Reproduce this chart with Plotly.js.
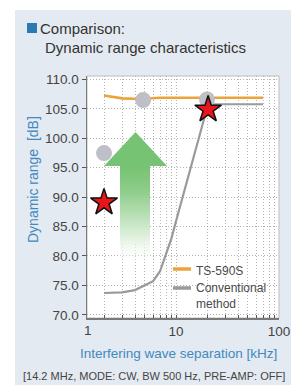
<!DOCTYPE html>
<html>
<head>
<meta charset="utf-8">
<script src="https://cdn.plot.ly/plotly-3.0.1.min.js"></script>
<style>
html,body{margin:0;padding:0;background:#ffffff;width:291px;height:385px;overflow:hidden}
#chart{position:absolute;left:15px;top:10px;width:276px;height:375px}
</style>
</head>
<body>
<div id="chart"></div>
<script>
// ---- data ----
const tsSep   = [2, 3, 4.5, 7, 10, 20, 40, 70];
const tsRange = [107.3, 106.8, 106.7, 106.9, 106.9, 106.9, 106.9, 106.9];

const convSep   = [2, 3, 4, 5.2, 6, 7, 7.8, 9, 10, 13.7, 20.5, 30, 50, 70];
const convRange = [73.7, 73.8, 74.2, 75.1, 75.7, 77.4, 79.8, 82.9, 85.9, 94.7, 105.8, 105.8, 105.8, 105.8];

const circleSep   = [2, 4.8, 20];
const circleRange = [97.5, 106.5, 106.6];

const starSep   = [2, 20.5];
const starRange = [89.1, 104.9];

const yTicks = [70, 75, 80, 85, 90, 95, 100, 105, 110];
const xMajorTicks = [10, 100];
const xMajorLabels = ['10', '100'];
const xMinorTicks = [2, 3, 4, 5, 6, 7, 8, 9, 20, 30, 40, 50, 60, 70, 80, 90];

const seriesNames = ['TS-590S', 'Conventional<br>method'];
const seriesColors = ['#eda33c', '#9a9a9a'];
const titleLine1 = 'Comparison:';
const titleLine2 = 'Dynamic range characteristics';
const yTitle = 'Dynamic range\u00a0\u00a0[dB]';
const xTitle = 'Interfering wave separation [kHz]';
const footnote = '[14.2\u00a0MHz, MODE: CW, BW\u00a0500\u00a0Hz, PRE-AMP: OFF]';
const firstXLabel = '1';

// ---- layout helpers (pixel -> paper) ----
const M = {l: 72, r: 12, t: 66, b: 67};
const PL = 15 + M.l, PT = 10 + M.t, PW = 276 - M.l - M.r, PH = 375 - M.t - M.b;
const X = px => (px - PL) / PW;
const Y = py => (PT + PH - py) / PH;

const FONT = '"Liberation Sans", Arial, Helvetica, sans-serif';
const BLUE = '#4189c0';
const GRID = '#b4b4b4';

const arrowSvg =
 "<svg xmlns='http://www.w3.org/2000/svg' width='63' height='133' viewBox='0 0 63 133'>" +
 "<defs><linearGradient id='g' x1='0' y1='0' x2='0' y2='133' gradientUnits='userSpaceOnUse'>" +
 "<stop offset='0.26' stop-color='#76c373'/><stop offset='0.45' stop-color='#8fcd8b'/>" +
 "<stop offset='0.8' stop-color='#e2f2e0'/><stop offset='1' stop-color='#ffffff' stop-opacity='0'/>" +
 "</linearGradient></defs>" +
 "<path d='M0,34 L31.5,0 L63,34 L46,34 L46,133 L16,133 L16,34 Z' fill='url(#g)'/></svg>";

const traces = [
  {x: convSep, y: convRange, name: 'Conventional method', type: 'scatter', mode: 'lines',
   line: {color: seriesColors[1], width: 2.2}, showlegend: false},
  {x: tsSep, y: tsRange, name: seriesNames[0], type: 'scatter', mode: 'lines',
   line: {color: seriesColors[0], width: 2.6}, showlegend: false},
  {x: circleSep, y: circleRange, type: 'scatter', mode: 'markers', showlegend: false,
   marker: {size: 16, color: '#bfc0c7'}, hoverinfo: 'skip'},
  {x: starSep, y: starRange, type: 'scatter', mode: 'markers', showlegend: false,
   marker: {symbol: 'star', size: 20, color: '#e8151b', line: {color: '#111', width: 1.5}}, hoverinfo: 'skip'}
];

const ann = (text, px, py, opts) => Object.assign({
  text: text, x: X(px), y: Y(py), xref: 'paper', yref: 'paper', showarrow: false,
  xanchor: 'left', yanchor: 'middle', font: {family: FONT, size: 13, color: '#444'}
}, opts || {});

const legLine = (py, color) => ({type: 'line', xref: 'paper', yref: 'paper',
  x0: X(173), x1: X(191), y0: Y(py), y1: Y(py), line: {color: color, width: 3.5}, layer: 'above'});

const LEGFONT = {family: FONT, size: 12, color: '#4a4a4a'};

const layout = {
  width: 276, height: 375,
  margin: M,
  paper_bgcolor: '#e4eaf1',
  plot_bgcolor: '#ffffff',
  font: {family: FONT, size: 13, color: '#444'},
  showlegend: false,
  xaxis: {
    type: 'log', range: [0.136, 2.0],
    tickmode: 'array', tickvals: xMajorTicks, ticktext: xMajorLabels,
    ticks: 'inside', ticklen: 3, tickcolor: '#555', tickwidth: 1,
    tickfont: {family: FONT, size: 13.5, color: '#444'},
    showline: true, linecolor: '#7a7a7a', linewidth: 1.5,
    showgrid: true, gridcolor: GRID, gridwidth: 1, griddash: '1px,2px',
    minor: {tickmode: 'array', tickvals: xMinorTicks, ticks: 'inside', ticklen: 3, tickcolor: '#555',
            showgrid: true, gridcolor: GRID, gridwidth: 1, griddash: '1px,2px'},
    zeroline: false, fixedrange: true
  },
  yaxis: {
    range: [69.45, 110.6],
    tickmode: 'array', tickvals: yTicks, tickformat: '.1f',
    ticks: 'outside', ticklen: 4, tickcolor: '#555',
    tickfont: {family: FONT, size: 13.5, color: '#444'},
    showline: true, linecolor: '#7a7a7a', linewidth: 1.5,
    showgrid: true, gridcolor: GRID, gridwidth: 1, griddash: '1px,2px',
    zeroline: false, fixedrange: true
  },
  shapes: [
    {type: 'rect', xref: 'paper', yref: 'paper', x0: 0, x1: 1, y0: 0, y1: 1,
     line: {color: '#bdbdbd', width: 1}, layer: 'below'},
    {type: 'rect', xref: 'paper', yref: 'paper', x0: X(27), x1: X(37), y0: Y(33), y1: Y(23),
     fillcolor: '#2b7ab2', line: {width: 0}},
    legLine(269, seriesColors[0]),
    legLine(288, seriesColors[1])
  ],
  images: [{
    source: 'data:image/svg+xml;charset=utf-8,' + encodeURIComponent(arrowSvg),
    xref: 'paper', yref: 'paper', x: X(104), y: Y(132), sizex: 63 / PW, sizey: 133 / PH,
    xanchor: 'left', yanchor: 'top', sizing: 'stretch', layer: 'above'
  }],
  annotations: [
    ann(titleLine1, 38, 28, {font: {family: FONT, size: 15, color: '#333'}}),
    ann(titleLine2, 43, 47, {font: {family: FONT, size: 15, color: '#333'}}),
    ann(yTitle, 33, 180, {xanchor: 'center', textangle: -90, font: {family: FONT, size: 14, color: BLUE}}),
    ann(xTitle, 178, 353, {xanchor: 'center', font: {family: FONT, size: 13.5, color: BLUE}}),
    ann(footnote, 21, 376, {font: {family: FONT, size: 11, color: '#444'}}),
    ann(firstXLabel, 88, 330, {xanchor: 'center', font: {family: FONT, size: 13.5, color: '#444'}}),
    ann(seriesNames[0], 194, 271, {font: LEGFONT}),
    ann(seriesNames[1], 194, 296, {font: LEGFONT, align: 'left'})
  ]
};

Plotly.newPlot('chart', traces, layout, {staticPlot: true, displayModeBar: false});
</script>
</body>
</html>
